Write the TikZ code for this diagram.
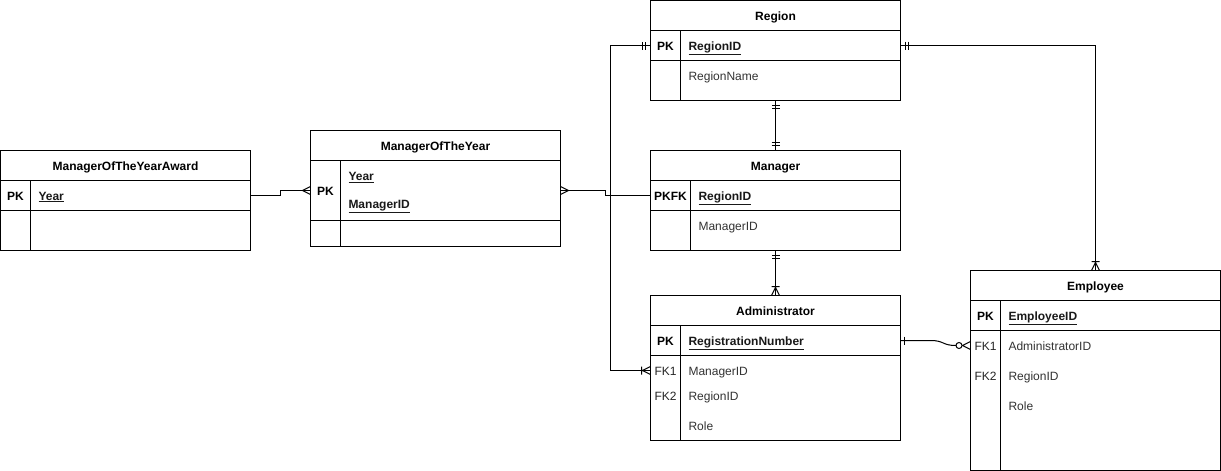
\documentclass[tikz,border=0pt]{standalone}
\usepackage{fontspec}
\setmainfont{Liberation Sans}
\usepackage{tikz}

\newcommand{\erfont}{\fontsize{12}{14}\selectfont}

\tikzset{
  tbl/.style={draw, anchor=north west, inner sep=0pt, outer sep=0pt, minimum width=250},
  hdr/.style={tbl, minimum height=30, text height=9pt, text depth=0pt, font=\erfont\bfseries},
  keytxt/.style={anchor=west, inner sep=0pt, outer sep=0pt, minimum width=30, text height=9pt, text depth=0pt, font=\erfont, text=black!85},
  pkkey/.style={keytxt, font=\erfont\bfseries, text=black},
  fld/.style={anchor=west, inner sep=0pt, text height=9pt, text depth=0pt, font=\erfont, text=black!80},
  pkfld/.style={fld, font=\erfont\bfseries, text=black!90},
  mandone/.pic={\draw (5,-4) -- (5,4) (8,-4) -- (8,4);},
  erone/.pic={\draw (4,-4) -- (4,4);},
  ermany/.pic={\draw (0,-4) -- (8,0) -- (0,4);},
  eronemany/.pic={\draw (0,-4) -- (8,0) -- (0,4) (9,-4) -- (9,4);},
  erzeromany/.pic={\draw (0,-4) -- (8,0) -- (0,4); \draw[fill=white] (11.5,0) circle (3);}
}

\begin{document}
\begin{tikzpicture}[x=1pt, y=-1pt, line width=1pt]
\fill[white] (0,0) rectangle (1221,471);
\useasboundingbox (0,0) rectangle (1221,471);

% ManagerOfTheYearAward
\node[hdr] (award) at (0.5,150.5) {ManagerOfTheYearAward};
\node[tbl, minimum height=30] (awardpk) at (0.5,180.5) {};
\node[tbl, minimum height=40] (awardbody) at (0.5,210.5) {};
\draw (30.5,180.5) -- (30.5,250.5);
\node[pkkey] (awardpkkey) at (0.5,195.5) {PK};
\node[pkfld] (awardyear) at (38,195.5) {\underline{Year}};

% ManagerOfTheYear
\node[hdr] (moty) at (310.5,130.5) {ManagerOfTheYear};
\node[tbl, minimum height=60] (motypk) at (310.5,160.5) {};
\node[tbl, minimum height=26] (motybody) at (310.5,220.5) {};
\draw (340.5,160.5) -- (340.5,246.5);
\node[pkkey] (motypkkey) at (310.5,190.5) {PK};
\node[pkfld] (motyyear) at (348,176) {\underline{Year}};
\node[pkfld] (motymanager) at (348,204) {\underline{ManagerID}};

% Region
\node[hdr] (region) at (650.5,0.5) {Region};
\node[tbl, minimum height=30] (regionpk) at (650.5,30.5) {};
\node[tbl, minimum height=40] (regionbody) at (650.5,60.5) {};
\draw (680.5,30.5) -- (680.5,100.5);
\node[pkkey] (regionpkkey) at (650.5,45.5) {PK};
\node[pkfld] (regionid) at (688,45.5) {\underline{RegionID}};
\node[fld] (regionname) at (688,75.5) {RegionName};

% Manager
\node[hdr] (manager) at (650.5,150.5) {Manager};
\node[tbl, minimum height=30] (managerpk) at (650.5,180.5) {};
\node[tbl, minimum height=40] (managerbody) at (650.5,210.5) {};
\draw (690.5,180.5) -- (690.5,250.5);
\node[pkkey, minimum width=40] (managerpkkey) at (650.5,195.5) {PKFK};
\node[pkfld] (managerregion) at (698,195.5) {\underline{RegionID}};
\node[fld] (managerid) at (698,225.5) {ManagerID};

% Administrator
\node[hdr] (admin) at (650.5,295.5) {Administrator};
\node[tbl, minimum height=30] (adminpk) at (650.5,325.5) {};
\node[tbl, minimum height=85] (adminbody) at (650.5,355.5) {};
\draw (680.5,325.5) -- (680.5,440.5);
\node[pkkey] (adminpkkey) at (650.5,340.5) {PK};
\node[pkfld] (adminnumber) at (688,340.5) {\underline{RegistrationNumber}};
\node[keytxt] (adminfk1) at (650.5,370.5) {FK1};
\node[fld] (adminmanager) at (688,370.5) {ManagerID};
\node[keytxt] (adminfk2) at (650.5,395.5) {FK2};
\node[fld] (adminregion) at (688,395.5) {RegionID};
\node[fld] (adminrole) at (688,425.5) {Role};

% Employee
\node[hdr] (employee) at (970.5,270.5) {Employee};
\node[tbl, minimum height=30] (employeepk) at (970.5,300.5) {};
\node[tbl, minimum height=140] (employeebody) at (970.5,330.5) {};
\draw (1000.5,300.5) -- (1000.5,470.5);
\node[pkkey] (employeepkkey) at (970.5,315.5) {PK};
\node[pkfld] (employeeid) at (1008,315.5) {\underline{EmployeeID}};
\node[keytxt] (employeefk1) at (970.5,345.5) {FK1};
\node[fld] (employeeadmin) at (1008,345.5) {AdministratorID};
\node[keytxt] (employeefk2) at (970.5,375.5) {FK2};
\node[fld] (employeeregion) at (1008,375.5) {RegionID};
\node[fld] (employeerole) at (1008,405.5) {Role};

% relations
\draw (awardpk.east) -- ++(30,0) |- (motypk.west);
\pic[rotate=180] at (motypk.west) {ermany};
\draw (motypk.east) -- ++(45,0) |- (managerpk.west);
\pic at (motypk.east) {ermany};
\draw (regionpk.west) -- ++(-40,0) |- (adminfk1.west);
\pic[rotate=180] at (regionpk.west) {mandone};
\pic[rotate=180] at (adminfk1.west) {eronemany};
\draw (regionbody.south) -- (manager.north);
\pic[rotate=-90] at (regionbody.south) {mandone};
\pic[rotate=90] at (manager.north) {mandone};
\draw (managerbody.south) -- (admin.north);
\pic[rotate=-90] at (managerbody.south) {mandone};
\pic[rotate=90] at (admin.north) {eronemany};
\draw (regionpk.east) -| (employee.north);
\pic at (regionpk.east) {mandone};
\pic[rotate=90] at (employee.north) {eronemany};
\draw (adminpk.east) -- ++(30,0) .. controls +(14,0) and +(-14,0) .. ([xshift=-14.5pt]employeefk1.west);
\pic at (adminpk.east) {erone};
\pic[rotate=180] at (employeefk1.west) {erzeromany};
\end{tikzpicture}
\end{document}
